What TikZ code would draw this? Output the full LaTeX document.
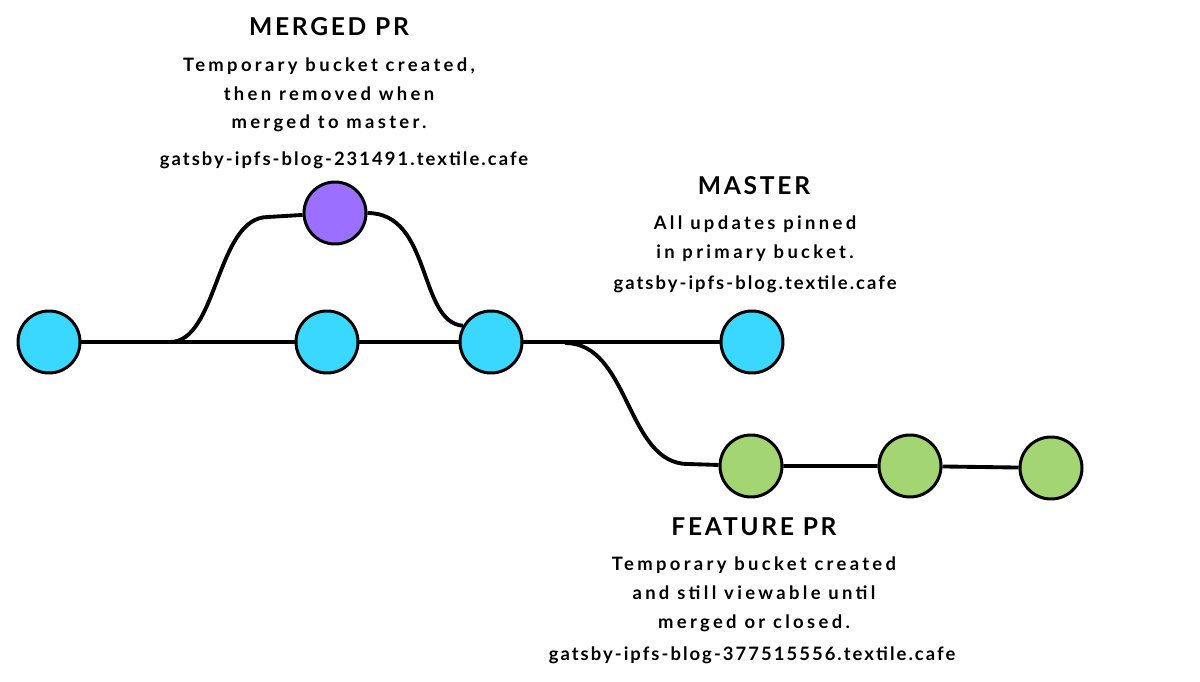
\documentclass[tikz,border=0pt]{standalone}
\usepackage{fontspec}
\setmainfont{Lato}
\newfontfamily\spaced[LetterSpace=18]{Lato}
\newfontfamily\urlspaced[LetterSpace=11]{Lato}
\usetikzlibrary{positioning}
\definecolor{masterblue}{RGB}{58,216,255}
\definecolor{mergedpurple}{RGB}{155,111,255}
\definecolor{featuregreen}{RGB}{163,214,114}

\begin{document}
\begin{tikzpicture}[x=0.02cm,y=-0.02cm]
\tikzset{
  commit/.style={circle,draw=black,line width=1.7pt,minimum size=1.24cm,inner sep=0pt},
  branch/.style={line width=2.2pt,black},
  heading/.style={anchor=base,inner sep=0pt,font=\urlspaced\bfseries\fontsize{14}{16}\selectfont},
  body/.style={anchor=base,inner sep=0pt,align=center,font=\spaced\bfseries\fontsize{10.5}{16.4}\selectfont},
  bucket/.style={anchor=base,inner sep=0pt,font=\urlspaced\bfseries\fontsize{10.5}{16.4}\selectfont}
}
\useasboundingbox (0,0) rectangle (1200,682);
% commits
\node [commit,fill=masterblue] (m1) at (49,342) {};
\node [commit,fill=masterblue] (m2) at (327,342) {};
\node [commit,fill=masterblue] (m3) at (491,342) {};
\node [commit,fill=masterblue] (m4) at (752,342) {};
\node [commit,fill=mergedpurple] (pr) at (335,213) {};
\node [commit,fill=featuregreen] (f1) at (751,466) {};
\node [commit,fill=featuregreen] (f2) at (910,466) {};
\node [commit,fill=featuregreen] (f3) at (1051,468) {};
\coordinate (prsplit) at (170,342);
\coordinate (ftsplit) at (565,343);
% branches
\draw [branch] (m1) -- (m2) -- (m3) -- (m4);
\draw [branch] (prsplit) .. controls (218,342) and (216,217) .. (268,217) -- (pr);
\draw [branch] (pr.east) .. controls (432,213) and (418,322) .. (m3.150);
\draw [branch] (ftsplit) .. controls (630,343) and (626,464) .. (688,464) -- (f1);
\draw [branch] (f1) -- (f2) -- (f3);
% labels (a body node sits on the baseline of its last line)
\node [heading] (prtitle) at (329,36) {MERGED PR};
\node [body] (prtext) at (329,129) {Temporary bucket created,\\then removed when\\merged to master.};
\node [bucket] (prurl) at (344,166) {gatsby-ipfs-blog-231491.textile.cafe};
\node [heading] (mtitle) at (754,195) {MASTER};
\node [body] (mtext) at (755,258) {All updates pinned\\in primary bucket.};
\node [bucket] (murl) at (755,290) {gatsby-ipfs-blog.textile.cafe};
\node [heading] (ftitle) at (754,535) {FEATURE PR};
\node [body] (ftext) at (754,628) {Temporary bucket created\\and still viewable until\\merged or closed.};
\node [bucket] (furl) at (752,660) {gatsby-ipfs-blog-377515556.textile.cafe};
\end{tikzpicture}
\end{document}
